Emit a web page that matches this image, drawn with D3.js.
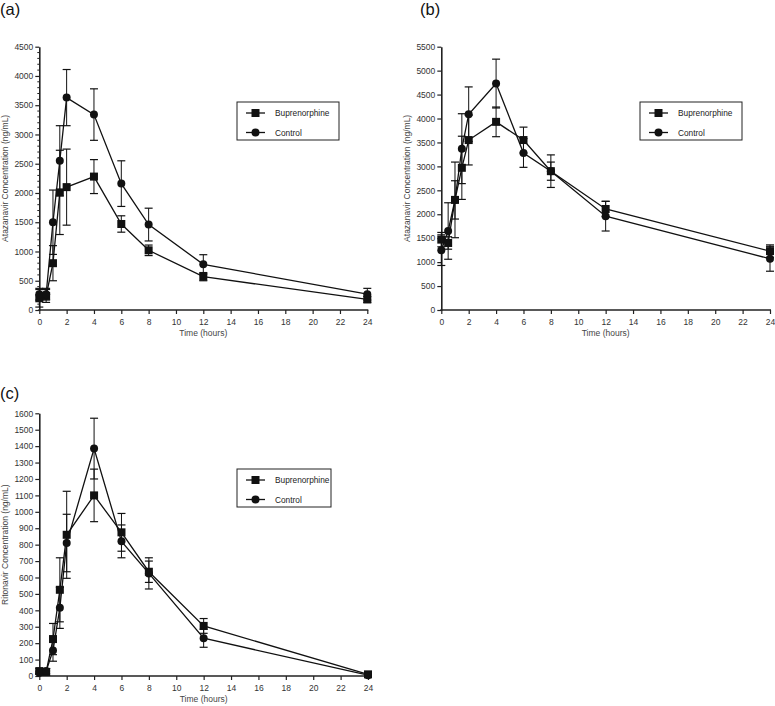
<!DOCTYPE html>
<html>
  <head>
    <meta charset="utf-8" />
    <title>Atazanavir / Ritonavir concentrations</title>
    <script src="https://d3js.org/d3.v7.min.js"></script>
    <style>
      body { margin: 0; background: #fff; }
      svg { font-family: "Liberation Sans", Arial, sans-serif; }
      .tick text { font-size: 8.5px; fill: #333; }
      .axis path, .axis line { stroke: #222; }
      .ylab, .xlab { font-size: 8.5px; fill: #444; }
      .legend text { font-size: 8.3px; fill: #222; }
      .panel-label { font-size: 16.5px; fill: #111; }
    </style>
  </head>
  <body>
    <svg width="775" height="706"></svg>
    <script>
      // sampling times (hours)
      const times = [0, 0.5, 1, 1.5, 2, 4, 6, 8, 12, 24];
      const xTicks = d3.range(0, 25, 2);

      // (a) atazanavir
      const aBup = [200, 240, 800, 2010, 2100, 2280, 1470, 1020, 570, 180];
      const aBupErr = [150, 110, 300, 720, 650, 290, 140, 90, 70, 50];
      const aCtl = [270, 270, 1500, 2550, 3630, 3340, 2160, 1460, 780, 270];
      const aCtlErr = [100, 100, 550, 600, 480, 440, 390, 280, 165, 100];
      const aYTicks = d3.range(0, 4501, 500);

      // (b) atazanavir
      const bBup = [1470, 1400, 2300, 2970, 3550, 3930, 3550, 2900, 2110, 1230];
      const bBupErr = [150, 130, 400, 660, 520, 310, 270, 190, 160, 130];
      const bCtl = [1250, 1650, 2300, 3370, 4090, 4730, 3280, 2900, 1960, 1070];
      const bCtlErr = [320, 590, 790, 730, 570, 510, 300, 340, 310, 260];
      const bYTicks = d3.range(0, 5501, 500);

      // (c) ritonavir
      const cBup = [30, 25, 225, 525, 860, 1100, 875, 635, 305, 10];
      const cBupErr = [15, 20, 95, 195, 265, 160, 115, 65, 45, 5];
      const cCtl = [20, 30, 155, 415, 810, 1385, 820, 625, 230, 5];
      const cCtlErr = [10, 15, 65, 125, 175, 185, 100, 95, 55, 5];
      const cYTicks = d3.range(0, 1601, 100);

      const seriesNames = ["Buprenorphine", "Control"];

      const svg = d3.select("svg");

      function drawPanel(p) {
        const g = svg.append("g");
        const x = d3.scaleLinear().domain([0, 24]).range([p.x0, p.x1]);
        const y = d3.scaleLinear().domain([0, p.yMax]).range([p.y0, p.y1]);

        // axes
        g.append("g")
          .attr("class", "axis")
          .attr("transform", "translate(0," + p.y0 + ")")
          .call(d3.axisBottom(x).tickValues(xTicks).tickFormat(d3.format("d")).tickSize(4).tickSizeOuter(0).tickPadding(5))
          .call(a => a.select(".domain").attr("stroke-width", 1.6).attr("d", "M" + (p.x0 - 1) + ",0H" + (p.x1 + 1)))
          .call(a => a.selectAll(".tick line").attr("stroke-width", 1.2));

        if (p.minor) {
          g.append("g")
            .attr("transform", "translate(" + p.x0 + ",0)")
            .selectAll("line")
            .data(d3.range(0, p.yMax + 1, p.minor).filter(v => v % p.yStep !== 0))
            .join("line")
            .attr("x1", -2).attr("x2", 0)
            .attr("y1", d => y(d)).attr("y2", d => y(d))
            .attr("stroke", "#222").attr("stroke-width", 1);
        }

        g.append("g")
          .attr("class", "axis")
          .attr("transform", "translate(" + p.x0 + ",0)")
          .call(d3.axisLeft(y).tickValues(p.yTicks).tickFormat(d3.format("d")).tickSize(4).tickSizeOuter(0).tickPadding(2))
          .call(a => a.select(".domain").attr("stroke-width", 1.6))
          .call(a => a.selectAll(".tick line").attr("stroke-width", 1.2));

        // axis labels
        g.append("text")
          .attr("class", "xlab")
          .attr("x", (p.x0 + p.x1) / 2)
          .attr("y", p.y0 + 26)
          .attr("text-anchor", "middle")
          .text("Time (hours)");

        g.append("text")
          .attr("class", "ylab")
          .attr("transform", "translate(" + p.ylabX + "," + (p.y0 + p.y1) / 2 + ") rotate(-90)")
          .attr("text-anchor", "middle")
          .text(p.yLabel);

        // panel label
        svg.append("text")
          .attr("class", "panel-label")
          .attr("x", p.labelX)
          .attr("y", p.labelY)
          .text(p.label);

        const series = [
          { vals: p.bup, err: p.bupErr, shape: "square" },
          { vals: p.ctl, err: p.ctlErr, shape: "circle" }
        ];

        const line = d3.line().x((d, i) => x(times[i])).y(d => y(d));

        series.forEach(s => {
          // error bars
          const eb = g.append("g");
          s.vals.forEach((v, i) => {
            const cx = x(times[i]);
            const hi = y(v + s.err[i]), lo = y(Math.max(0, v - s.err[i]));
            eb.append("line").attr("x1", cx).attr("x2", cx).attr("y1", hi).attr("y2", lo)
              .attr("stroke", "#111").attr("stroke-width", 1);
            [hi, lo].forEach(yy => {
              eb.append("line").attr("x1", cx - 4).attr("x2", cx + 4).attr("y1", yy).attr("y2", yy)
                .attr("stroke", "#111").attr("stroke-width", 1.2);
            });
          });
          g.append("path")
            .datum(s.vals)
            .attr("d", line)
            .attr("fill", "none")
            .attr("stroke", "#111")
            .attr("stroke-width", 1.3);
        });

        series.forEach(s => {
          const m = g.append("g");
          s.vals.forEach((v, i) => {
            if (s.shape === "square") {
              m.append("rect")
                .attr("x", x(times[i]) - 4).attr("y", y(v) - 4)
                .attr("width", 8).attr("height", 8).attr("fill", "#111");
            } else {
              m.append("circle")
                .attr("cx", x(times[i])).attr("cy", y(v)).attr("r", 4).attr("fill", "#111");
            }
          });
        });

        // legend
        const lg = svg.append("g").attr("class", "legend")
          .attr("transform", "translate(" + p.legX + "," + p.legY + ")");
        lg.append("rect")
          .attr("width", p.legW).attr("height", 38)
          .attr("fill", "#fff").attr("stroke", "#222").attr("stroke-width", 1);
        seriesNames.forEach((name, i) => {
          const yy = 11 + i * 19.5;
          lg.append("line").attr("x1", 9).attr("x2", 28).attr("y1", yy).attr("y2", yy)
            .attr("stroke", "#111").attr("stroke-width", 1.3);
          if (i === 0) {
            lg.append("rect").attr("x", 14.5).attr("y", yy - 4).attr("width", 8).attr("height", 8).attr("fill", "#111");
          } else {
            lg.append("circle").attr("cx", 18.5).attr("cy", yy).attr("r", 4).attr("fill", "#111");
          }
          lg.append("text").attr("x", 38).attr("y", yy + 3).text(name);
        });
      }

      drawPanel({
        label: "(a)", labelX: 0, labelY: 15,
        x0: 39.3, x1: 367.3, y0: 310, y1: 46.7, yMax: 4500, yTicks: aYTicks, yStep: 500, minor: 100,
        yLabel: "Atazanavir Concentration (ng/mL)", ylabX: 8,
        bup: aBup, bupErr: aBupErr, ctl: aCtl, ctlErr: aCtlErr,
        legX: 237, legY: 102, legW: 102
      });

      drawPanel({
        label: "(b)", labelX: 420, labelY: 15,
        x0: 441.3, x1: 770, y0: 310, y1: 46.7, yMax: 5500, yTicks: bYTicks, yStep: 500, minor: 0,
        yLabel: "Atazanavir Concentration (ng/mL)", ylabX: 410,
        bup: bBup, bupErr: bBupErr, ctl: bCtl, ctlErr: bCtlErr,
        legX: 640, legY: 102, legW: 102
      });

      drawPanel({
        label: "(c)", labelX: 0, labelY: 399,
        x0: 39.3, x1: 368, y0: 676, y1: 413.3, yMax: 1600, yTicks: cYTicks, yStep: 100, minor: 0,
        yLabel: "Ritonavir Concentration (ng/mL)", ylabX: 8,
        bup: cBup, bupErr: cBupErr, ctl: cCtl, ctlErr: cCtlErr,
        legX: 237, legY: 469, legW: 94
      });
    </script>
  </body>
</html>
